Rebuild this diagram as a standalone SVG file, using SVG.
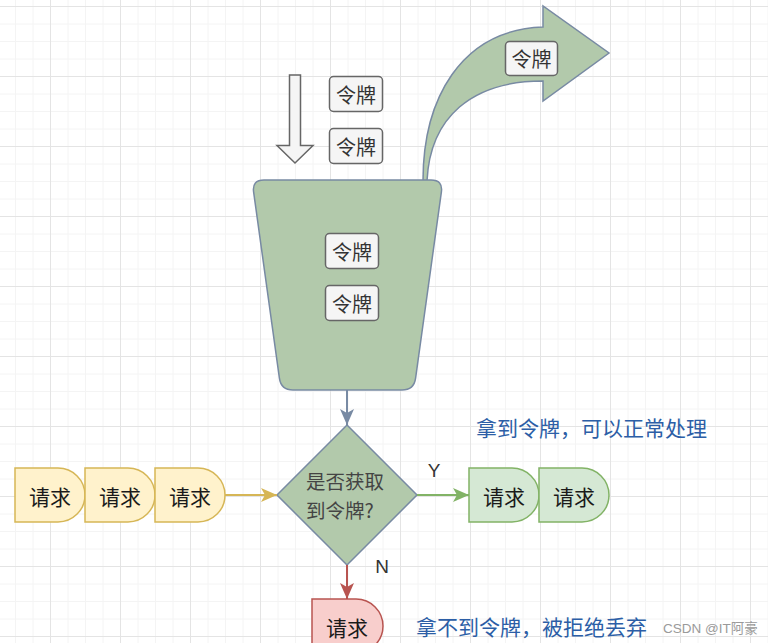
<svg xmlns="http://www.w3.org/2000/svg" width="768" height="643" viewBox="0 0 768 643">
  <style>
    .cjk { font-family: "Noto Sans CJK SC", "Noto Sans", sans-serif; }
    .token rect { fill: #f5f5f5; stroke: #666666; stroke-width: 1.5; }
    .token text { font-size: 20px; fill: #333333; text-anchor: middle; dominant-baseline: central; }
    .req text { font-size: 21px; fill: #1a1a1a; text-anchor: middle; dominant-baseline: central; }
    .yellow path { fill: #fff2cc; stroke: #d6b656; stroke-width: 1.5; }
    .green path { fill: #d5e8d4; stroke: #82b366; stroke-width: 1.5; }
    .red path { fill: #f8cecc; stroke: #b85450; stroke-width: 1.5; }
    .sage { fill: #b2c9ab; stroke: #788aa3; stroke-width: 1.5; }
    .note { font-size: 21px; fill: #2c5ea6; dominant-baseline: central; }
    .lbl { font-family: "Liberation Sans", Arial, sans-serif; font-size: 19px; fill: #333333; text-anchor: middle; dominant-baseline: central; }
  </style>
  <defs>
    <pattern id="grid" x="50" y="6" width="70" height="70" patternUnits="userSpaceOnUse">
      <path d="M18,0 V70 M35.5,0 V70 M53,0 V70 M0,18 H70 M0,35.5 H70 M0,53 H70" stroke="#f4f4f4" stroke-width="1" fill="none"/>
      <path d="M0.5,0 V70 M0,0.5 H70" stroke="#e4e4e4" stroke-width="1" fill="none"/>
    </pattern>
    <marker id="mBlue" markerWidth="16" markerHeight="14" refX="16" refY="7" orient="auto" markerUnits="userSpaceOnUse">
      <path d="M0,0 L16,7 L0,14 L4,7 Z" fill="#788aa3"/>
    </marker>
    <marker id="mYellow" markerWidth="16" markerHeight="14" refX="16" refY="7" orient="auto" markerUnits="userSpaceOnUse">
      <path d="M0,0 L16,7 L0,14 L4,7 Z" fill="#d6b656"/>
    </marker>
    <marker id="mGreen" markerWidth="16" markerHeight="14" refX="16" refY="7" orient="auto" markerUnits="userSpaceOnUse">
      <path d="M0,0 L16,7 L0,14 L4,7 Z" fill="#82b366"/>
    </marker>
    <marker id="mRed" markerWidth="16" markerHeight="14" refX="16" refY="7" orient="auto" markerUnits="userSpaceOnUse">
      <path d="M0,0 L16,7 L0,14 L4,7 Z" fill="#b85450"/>
    </marker>
  </defs>

  <rect x="0" y="0" width="768" height="643" fill="#ffffff"/>
  <rect x="0" y="0" width="768" height="643" fill="url(#grid)"/>

  <!-- incoming hollow arrow -->
  <g id="inArrow">
    <polygon points="289.5,75 300.5,75 300.5,145.5 313,145.5 295,163 277,145.5 289.5,145.5" fill="#f5f5f5" stroke="#666666" stroke-width="1.5"/>
  </g>

  <!-- curved outgoing arrow -->
  <g id="outArrow">
    <path class="sage" d="M423,181 C423,100 460,30 543,27 L543,6 L609,53 L543,101 L543,81 C472,81 430,117 427,181 Z"/>
  </g>

  <!-- bucket -->
  <g id="bucket">
    <path class="sage" d="M264,180 L431,180 Q443,180 441.4,191.9 L415.6,378.1 Q414,390 402,390 L293,390 Q281,390 279.4,378.1 L253.6,191.9 Q252,180 264,180 Z"/>
  </g>

  <!-- tokens -->
  <g id="token1" class="token cjk"><rect x="329.5" y="76.5" width="53" height="35" rx="4"/><text x="356" y="94">令牌</text></g>
  <g id="token2" class="token cjk"><rect x="329.5" y="128.5" width="53" height="35" rx="4"/><text x="356" y="146">令牌</text></g>
  <g id="token3" class="token cjk"><rect x="505.5" y="41.5" width="52" height="34" rx="4"/><text x="531.5" y="58.5">令牌</text></g>
  <g id="token4" class="token cjk"><rect x="325.5" y="233.5" width="53" height="35" rx="4"/><text x="352" y="251">令牌</text></g>
  <g id="token5" class="token cjk"><rect x="325.5" y="285.5" width="53" height="35" rx="4"/><text x="352" y="303">令牌</text></g>

  <!-- decision -->
  <g id="decision">
    <polygon class="sage" points="347,425 417,495 347,565 277,495"/>
    <text class="cjk" x="306" y="489" font-size="19.5" fill="#444444">是否获取</text>
    <text class="cjk" x="306" y="518" font-size="19.5" fill="#444444">到令牌?</text>
  </g>

  <!-- requests -->
  <g id="reqY1" class="req yellow cjk"><path d="M15,468 L58,468 A27,27 0 0 1 58,522 L15,522 Z"/><text x="50" y="496">请求</text></g>
  <g id="reqY2" class="req yellow cjk"><path d="M85,468 L128,468 A27,27 0 0 1 128,522 L85,522 Z"/><text x="120" y="496">请求</text></g>
  <g id="reqY3" class="req yellow cjk"><path d="M155,468 L198,468 A27,27 0 0 1 198,522 L155,522 Z"/><text x="190" y="496">请求</text></g>
  <g id="reqG1" class="req green cjk"><path d="M469,468 L512,468 A27,27 0 0 1 512,522 L469,522 Z"/><text x="504" y="496">请求</text></g>
  <g id="reqG2" class="req green cjk"><path d="M539,468 L582,468 A27,27 0 0 1 582,522 L539,522 Z"/><text x="574" y="496">请求</text></g>
  <g id="reqR" class="req red cjk"><path d="M312,599 L356,599 A27,27 0 0 1 356,653 L312,653 Z"/><text x="347" y="627">请求</text></g>

  <!-- connectors -->
  <g id="connectors" fill="none" stroke-width="2">
    <line x1="347" y1="390" x2="347" y2="425" stroke="#788aa3" marker-end="url(#mBlue)"/>
    <line x1="225" y1="495" x2="277" y2="495" stroke="#d6b656" marker-end="url(#mYellow)"/>
    <line x1="417" y1="495" x2="469" y2="495" stroke="#82b366" marker-end="url(#mGreen)"/>
    <line x1="347" y1="565" x2="347" y2="599" stroke="#b85450" marker-end="url(#mRed)"/>
  </g>

  <!-- labels -->
  <text class="lbl" x="434" y="470">Y</text>
  <text class="lbl" x="382" y="566">N</text>
  <text class="note cjk" x="476" y="427">拿到令牌，可以正常处理</text>
  <text class="note cjk" x="416" y="626">拿不到令牌，被拒绝丢弃</text>
  <text x="663" y="628" font-family="Liberation Sans, Noto Sans CJK SC, sans-serif" font-size="13.5" fill="#9a9a9a" dominant-baseline="central">CSDN @IT阿豪</text>
</svg>
